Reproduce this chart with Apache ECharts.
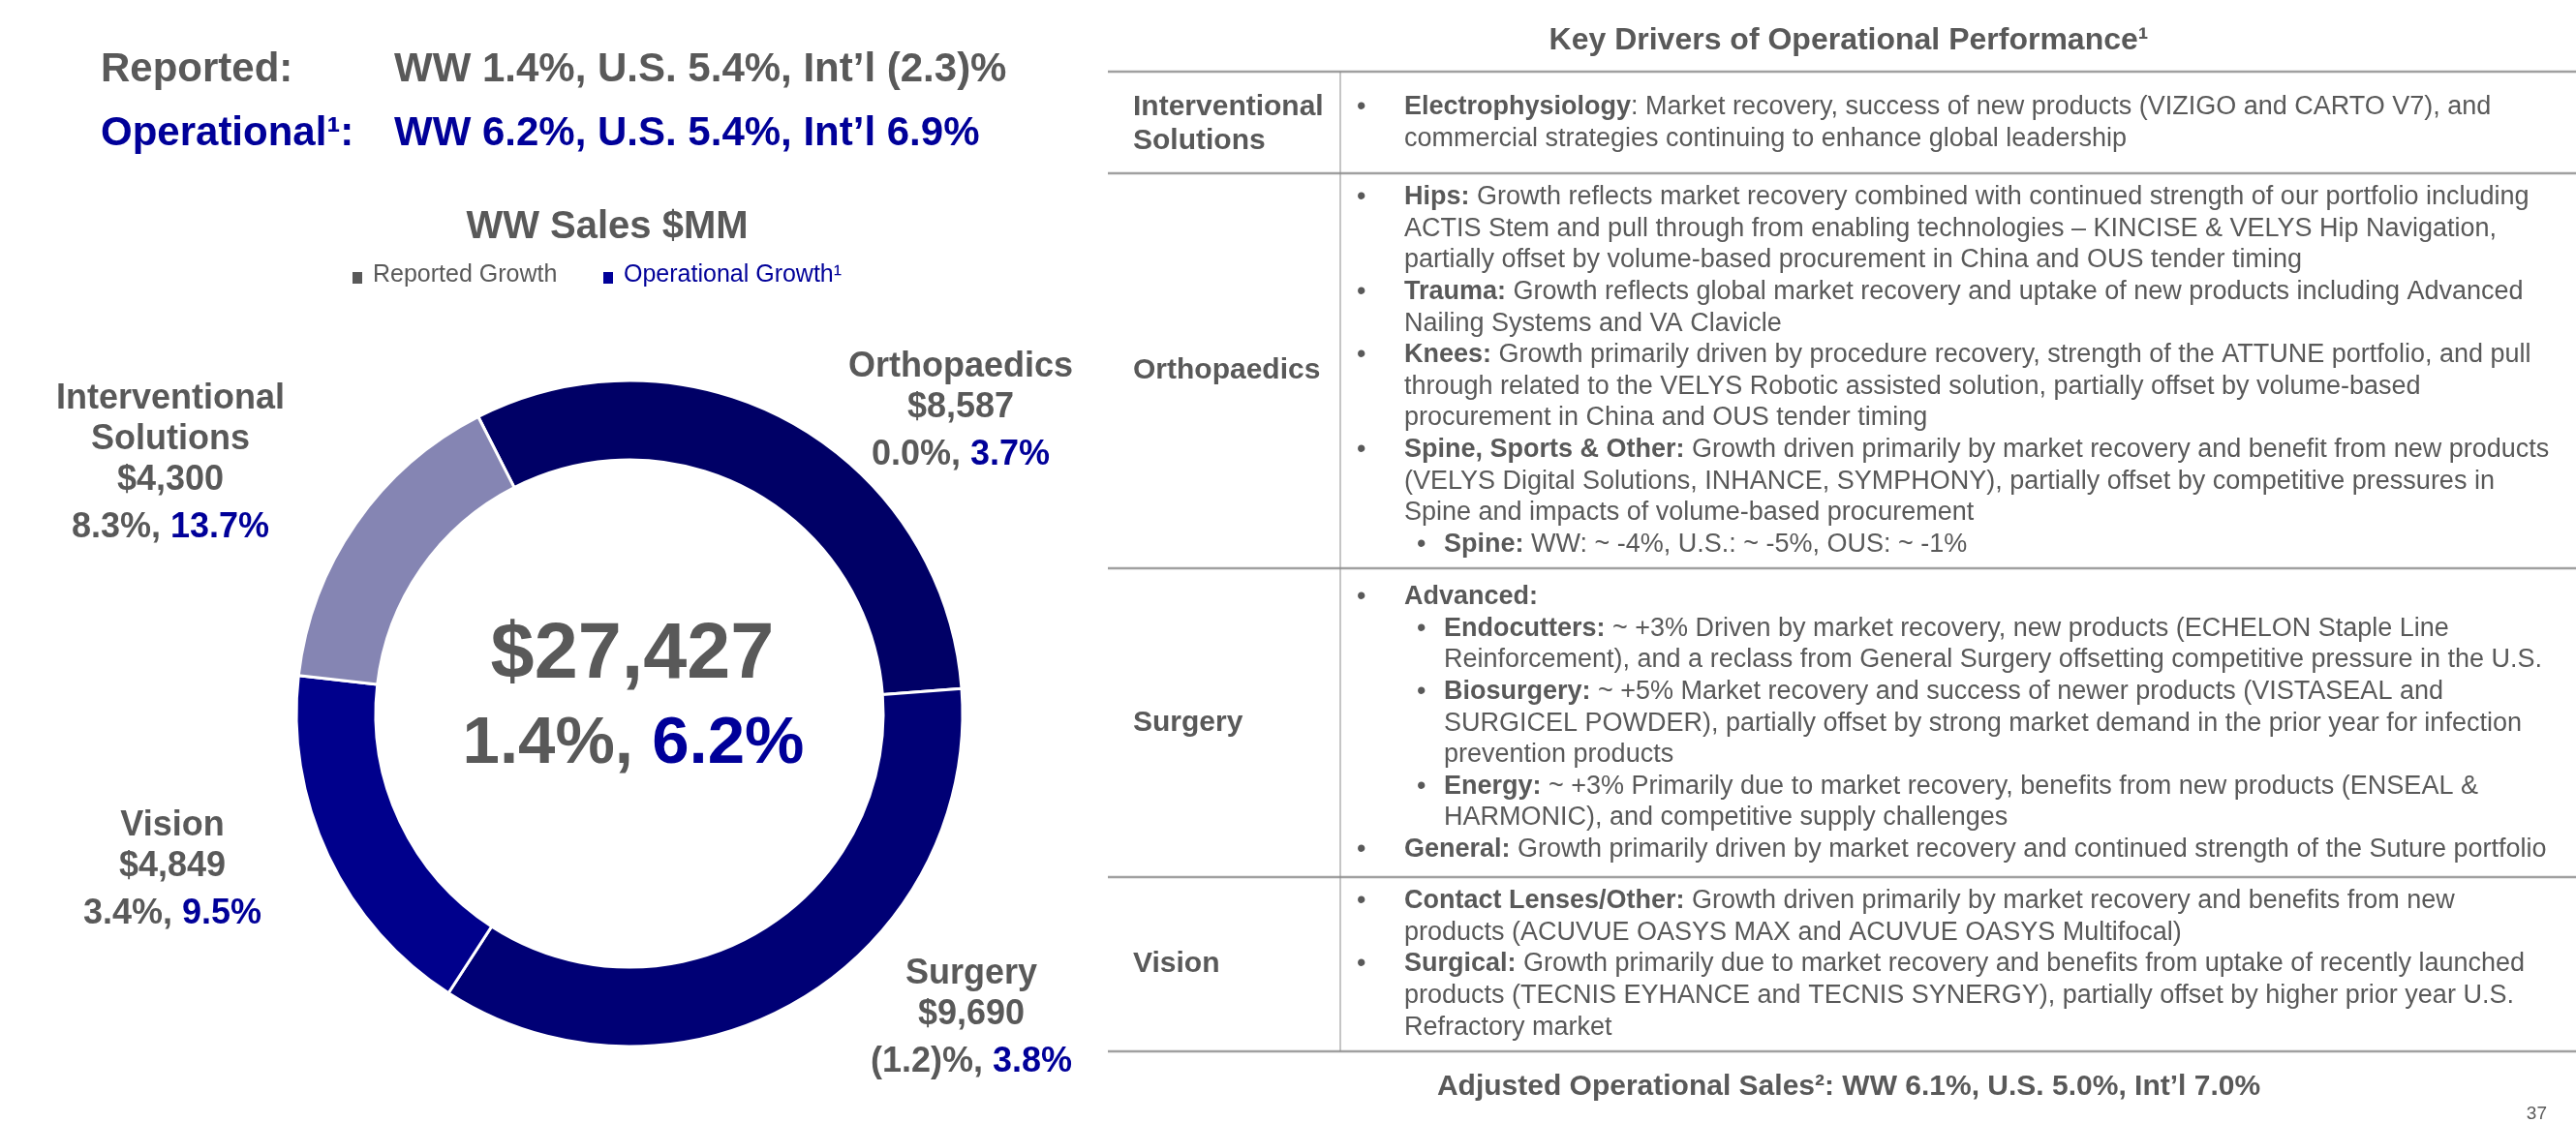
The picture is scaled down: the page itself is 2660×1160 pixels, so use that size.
<!DOCTYPE html>
<html>
<head>
<meta charset="utf-8">
<script src="https://cdn.jsdelivr.net/npm/echarts@6/dist/echarts.min.js"></script>
<style>
html,body{margin:0;padding:0;background:#fff;}
#chart{width:2660px;height:1160px;}
</style>
</head>
<body>
<div id="chart"></div>
<script>
// ---------------- DATA ----------------
const segments = ['Orthopaedics', 'Surgery', 'Vision', 'Interventional Solutions'];
const segmentLabels = ['Orthopaedics', 'Surgery', 'Vision', 'Interventional\nSolutions'];
const sales = [8587, 9690, 4849, 4300];
const reportedGrowth = [0.0, -1.2, 3.4, 8.3];
const operationalGrowth = [3.7, 3.8, 9.5, 13.7];

const totalSales = 27427;
const totalReported = 1.4;
const totalOperational = 6.2;

const regions = ['WW', 'U.S.', 'Int\u2019l'];
const reportedByRegion = [1.4, 5.4, -2.3];
const operationalByRegion = [6.2, 5.4, 6.9];
const adjustedByRegion = [6.1, 5.0, 7.0];

const legendItems = ['Reported Growth', 'Operational Growth\u00b9'];

// table text: [level, hasBullet, text]
const rowNames = [['Interventional', 'Solutions'], ['Orthopaedics'], ['Surgery'], ['Vision']];
const rowLines = [
  [
    [1, true, '{b|Electrophysiology}: Market recovery, success of new products (VIZIGO and CARTO V7), and'],
    [1, false, 'commercial strategies continuing to enhance global leadership']
  ],
  [
    [1, true, '{b|Hips:} Growth reflects market recovery combined with continued strength of our portfolio including'],
    [1, false, 'ACTIS Stem and pull through from enabling technologies \u2013 KINCISE & VELYS Hip Navigation,'],
    [1, false, 'partially offset by volume-based procurement in China and OUS tender timing'],
    [1, true, '{b|Trauma:} Growth reflects global market recovery and uptake of new products including Advanced'],
    [1, false, 'Nailing Systems and VA Clavicle'],
    [1, true, '{b|Knees:} Growth primarily driven by procedure recovery, strength of the ATTUNE portfolio, and pull'],
    [1, false, 'through related to the VELYS Robotic assisted solution, partially offset by volume-based'],
    [1, false, 'procurement in China and OUS tender timing'],
    [1, true, '{b|Spine, Sports & Other:} Growth driven primarily by market recovery and benefit from new products'],
    [1, false, '(VELYS Digital Solutions, INHANCE, SYMPHONY), partially offset by competitive pressures in'],
    [1, false, 'Spine and impacts of volume-based procurement'],
    [2, true, '{b|Spine:} WW: ~ -4%, U.S.: ~ -5%, OUS: ~ -1%']
  ],
  [
    [1, true, '{b|Advanced:}'],
    [2, true, '{b|Endocutters:} ~ +3% Driven by market recovery, new products (ECHELON Staple Line'],
    [2, false, 'Reinforcement), and a reclass from General Surgery offsetting competitive pressure in the U.S.'],
    [2, true, '{b|Biosurgery:} ~ +5% Market recovery and success of newer products (VISTASEAL and'],
    [2, false, 'SURGICEL POWDER), partially offset by strong market demand in the prior year for infection'],
    [2, false, 'prevention products'],
    [2, true, '{b|Energy:} ~ +3% Primarily due to market recovery, benefits from new products (ENSEAL &'],
    [2, false, 'HARMONIC), and competitive supply challenges'],
    [1, true, '{b|General:} Growth primarily driven by market recovery and continued strength of the Suture portfolio']
  ],
  [
    [1, true, '{b|Contact Lenses/Other:} Growth driven primarily by market recovery and benefits from new'],
    [1, false, 'products (ACUVUE OASYS MAX and ACUVUE OASYS Multifocal)'],
    [1, true, '{b|Surgical:} Growth primarily due to market recovery and benefits from uptake of recently launched'],
    [1, false, 'products (TECNIS EYHANCE and TECNIS SYNERGY), partially offset by higher prior year U.S.'],
    [1, false, 'Refractory market']
  ]
];

// ---------------- STYLE / LAYOUT ----------------
const GRAY = '#595959';
const BLUE = '#000099';
const FAM = '"Liberation Sans", Arial, Helvetica, sans-serif';
const sliceColors = ['#000066', '#000075', '#00008C', '#8585B3'];
const labelPositions = [[992, 358], [1003, 985], [178, 832], [176, 391]];
const rowFirstBaseline = [120, 213, 626, 940];
const rowNameBaseline = [121, 393, 757, 1006];
const rowRules = [74, 179, 587, 906, 1086];
const LINE_PITCH = 32.6;

function fmtPct(v) {
  return v < 0 ? '(' + Math.abs(v).toFixed(1) + ')%' : v.toFixed(1) + '%';
}
function fmtMoney(v) {
  return '$' + v.toLocaleString('en-US');
}
function font(size, bold) {
  return (bold ? 'bold ' : '') + size + 'px ' + FAM;
}
// baseline -> middle y
function mid(baseline, size) { return baseline - size * 0.34; }

function txt(x, baseline, text, size, bold, fill, align, rich) {
  return {
    type: 'text', x: x, y: mid(baseline, size), silent: true,
    style: {
      text: text, font: font(size, bold), fill: fill,
      align: align || 'left', textAlign: align || 'left',
      verticalAlign: 'middle', textVerticalAlign: 'middle',
      rich: rich
    }
  };
}

const graphics = [];

// Headline
graphics.push(txt(104, 87, 'Reported:', 42, true, GRAY));
graphics.push(txt(407, 87, regions.map((r, i) => r + ' ' + fmtPct(reportedByRegion[i])).join(', '), 42, true, GRAY));
graphics.push(txt(104, 153, 'Operational\u00b9:', 42, true, BLUE));
graphics.push(txt(407, 153, regions.map((r, i) => r + ' ' + fmtPct(operationalByRegion[i])).join(', '), 42, true, BLUE));

// Chart title & legend
graphics.push(txt(627, 249, 'WW Sales $MM', 40, true, GRAY, 'center'));
graphics.push({ type: 'rect', silent: true, shape: { x: 364, y: 281, width: 10, height: 12 }, style: { fill: GRAY } });
graphics.push(txt(385, 293, legendItems[0], 25, false, GRAY));
graphics.push({ type: 'rect', silent: true, shape: { x: 623, y: 281, width: 10, height: 12 }, style: { fill: BLUE } });
graphics.push(txt(644, 293, legendItems[1], 25, false, BLUE));

// Center total
graphics.push(txt(653, 705, fmtMoney(totalSales), 81, true, GRAY, 'center'));
graphics.push(txt(654, 792, '{g|' + fmtPct(totalReported) + ', }{o|' + fmtPct(totalOperational) + '}', 69, true, GRAY, 'center', {
  g: { font: font(69, true), fill: GRAY },
  o: { font: font(69, true), fill: BLUE }
}));

// Table title
graphics.push(txt(1909, 53, 'Key Drivers of Operational Performance\u00b9', 32, true, GRAY, 'center'));

// Table rules
rowRules.forEach((y) => {
  graphics.push({ type: 'line', silent: true, shape: { x1: 1144, y1: y, x2: 2660, y2: y }, style: { stroke: '#A0A0A0', lineWidth: 2.5 } });
});
graphics.push({ type: 'line', silent: true, shape: { x1: 1384, y1: rowRules[0], x2: 1384, y2: rowRules[rowRules.length - 1] }, style: { stroke: '#8C8C8C', lineWidth: 1 } });

// Table content
const TF = 27;
const richB = { b: { font: font(TF, true), fill: GRAY } };
rowNames.forEach((names, r) => {
  names.forEach((n, k) => {
    graphics.push(txt(1170, rowNameBaseline[r] + k * 35, n, 30, true, GRAY));
  });
  rowLines[r].forEach((ln, k) => {
    const base = rowFirstBaseline[r] + k * LINE_PITCH;
    const level = ln[0];
    const bx = level === 1 ? 1401 : 1463;
    const tx = level === 1 ? 1450 : 1491;
    if (ln[1]) graphics.push(txt(bx, base, '\u2022', TF, false, GRAY));
    graphics.push(txt(tx, base, ln[2], TF, false, GRAY, 'left', richB));
  });
});

// Footer
graphics.push(txt(1909, 1133, 'Adjusted Operational Sales\u00b2: ' + regions.map((r, i) => r + ' ' + fmtPct(adjustedByRegion[i])).join(', '), 30, true, GRAY, 'center'));
graphics.push(txt(2630, 1157, '37', 19, false, GRAY, 'right'));

// ---------------- CHART ----------------
const chart = echarts.init(document.getElementById('chart'), null, { renderer: 'canvas' });
chart.setOption({
  animation: false,
  backgroundColor: '#ffffff',
  series: [{
    type: 'pie',
    center: [650, 737],
    radius: [262, 344],
    startAngle: 117,
    clockwise: true,
    avoidLabelOverlap: false,
    silent: true,
    itemStyle: { borderColor: '#ffffff', borderWidth: 3 },
    emphasis: { disabled: true },
    labelLine: { show: false },
    label: {
      show: true,
      position: 'outside',
      formatter: function (p) {
        const i = p.dataIndex;
        return '{n|' + segmentLabels[i] + '}\n{v|' + fmtMoney(sales[i]) + '}\n{g|' +
          fmtPct(reportedGrowth[i]) + ', }{o|' + fmtPct(operationalGrowth[i]) + '}';
      },
      rich: {
        n: { fontFamily: FAM, fontSize: 36, fontWeight: 'bold', color: GRAY, lineHeight: 42, align: 'center' },
        v: { fontFamily: FAM, fontSize: 36, fontWeight: 'bold', color: GRAY, lineHeight: 43, align: 'center' },
        g: { fontFamily: FAM, fontSize: 36, fontWeight: 'bold', color: GRAY, lineHeight: 54 },
        o: { fontFamily: FAM, fontSize: 36, fontWeight: 'bold', color: BLUE, lineHeight: 54 }
      }
    },
    labelLayout: function (params) {
      const pos = labelPositions[params.dataIndex];
      return { x: pos[0], y: pos[1], align: 'center', verticalAlign: 'top' };
    },
    data: segments.map((s, i) => ({ name: s, value: sales[i], itemStyle: { color: sliceColors[i] } }))
  }],
  graphic: { elements: graphics }
});
</script>
</body>
</html>
